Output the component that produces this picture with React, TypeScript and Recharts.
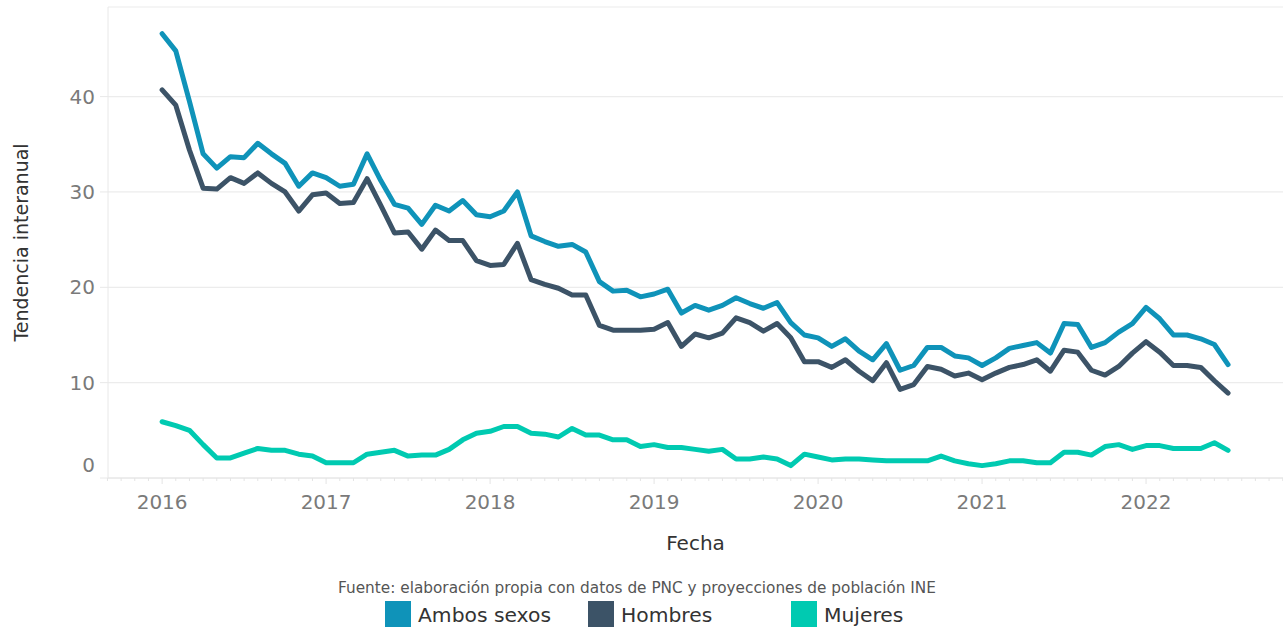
import React from 'react';
import { LineChart, Line, XAxis, YAxis, CartesianGrid } from 'recharts';

// Monthly dates, Jan 2016 - Jul 2022
const fechas = [
  '2016-01', '2016-02', '2016-03', '2016-04', '2016-05', '2016-06', '2016-07', '2016-08', '2016-09', '2016-10', '2016-11', '2016-12',
  '2017-01', '2017-02', '2017-03', '2017-04', '2017-05', '2017-06', '2017-07', '2017-08', '2017-09', '2017-10', '2017-11', '2017-12',
  '2018-01', '2018-02', '2018-03', '2018-04', '2018-05', '2018-06', '2018-07', '2018-08', '2018-09', '2018-10', '2018-11', '2018-12',
  '2019-01', '2019-02', '2019-03', '2019-04', '2019-05', '2019-06', '2019-07', '2019-08', '2019-09', '2019-10', '2019-11', '2019-12',
  '2020-01', '2020-02', '2020-03', '2020-04', '2020-05', '2020-06', '2020-07', '2020-08', '2020-09', '2020-10', '2020-11', '2020-12',
  '2021-01', '2021-02', '2021-03', '2021-04', '2021-05', '2021-06', '2021-07', '2021-08', '2021-09', '2021-10', '2021-11', '2021-12',
  '2022-01', '2022-02', '2022-03', '2022-04', '2022-05', '2022-06', '2022-07'
];

const ambosSexos = [
  46.6, 44.8, 39.5, 34.0, 32.5, 33.7, 33.6, 35.1, 34.0, 33.0, 30.6, 32.0,
  31.5, 30.6, 30.8, 34.0, 31.2, 28.7, 28.3, 26.6, 28.6, 28.0, 29.1, 27.6,
  27.4, 28.0, 30.0, 25.4, 24.8, 24.3, 24.5, 23.7, 20.6, 19.6, 19.7, 19.0,
  19.3, 19.8, 17.3, 18.1, 17.6, 18.1, 18.9, 18.3, 17.8, 18.4, 16.3, 15.0,
  14.7, 13.8, 14.6, 13.3, 12.4, 14.1, 11.3, 11.8, 13.7, 13.7, 12.8, 12.6,
  11.8, 12.6, 13.6, 13.9, 14.2, 13.1, 16.2, 16.1, 13.7, 14.2, 15.3, 16.2,
  17.9, 16.7, 15.0, 15.0, 14.6, 14.0, 11.9
];

const hombres = [
  40.7, 39.1, 34.4, 30.4, 30.3, 31.5, 30.9, 32.0, 30.9, 30.0, 28.0, 29.7,
  29.9, 28.8, 28.9, 31.4, 28.6, 25.7, 25.8, 24.0, 26.0, 24.9, 24.9, 22.8,
  22.3, 22.4, 24.6, 20.8, 20.3, 19.9, 19.2, 19.2, 16.0, 15.5, 15.5, 15.5,
  15.6, 16.3, 13.8, 15.1, 14.7, 15.2, 16.8, 16.3, 15.4, 16.2, 14.7, 12.2,
  12.2, 11.6, 12.4, 11.2, 10.2, 12.1, 9.3, 9.8, 11.7, 11.4, 10.7, 11.0,
  10.3, 11.0, 11.6, 11.9, 12.4, 11.2, 13.4, 13.2, 11.3, 10.8, 11.7, 13.1,
  14.3, 13.2, 11.8, 11.8, 11.6, 10.2, 8.9
];

const mujeres = [
  5.9, 5.5, 5.0, 3.5, 2.1, 2.1, 2.6, 3.1, 2.9, 2.9, 2.5, 2.3,
  1.6, 1.6, 1.6, 2.5, 2.7, 2.9, 2.3, 2.4, 2.4, 3.0, 4.0, 4.7,
  4.9, 5.4, 5.4, 4.7, 4.6, 4.3, 5.2, 4.5, 4.5, 4.0, 4.0, 3.3,
  3.5, 3.2, 3.2, 3.0, 2.8, 3.0, 2.0, 2.0, 2.2, 2.0, 1.3, 2.5,
  2.2, 1.9, 2.0, 2.0, 1.9, 1.8, 1.8, 1.8, 1.8, 2.3, 1.8, 1.5,
  1.3, 1.5, 1.8, 1.8, 1.6, 1.6, 2.7, 2.7, 2.4, 3.3, 3.5, 3.0,
  3.4, 3.4, 3.1, 3.1, 3.1, 3.7, 2.9
];

const years = [2016, 2017, 2018, 2019, 2020, 2021, 2022];
const yTicks = [0, 10, 20, 30, 40];

const series = [
  { key: 'ambos', name: 'Ambos sexos', color: '#0f93b9' },
  { key: 'hombres', name: 'Hombres', color: '#3c5367' },
  { key: 'mujeres', name: 'Mujeres', color: '#00cab1' }
];

// convert "YYYY-MM" to decimal year for the numeric axis
const toYear = (f: string) => {
  const [y, m] = f.split('-').map(Number);
  return y + (m - 1) / 12;
};

const data = fechas.map((f, i) => ({
  fecha: toYear(f),
  ambos: ambosSexos[i],
  hombres: hombres[i],
  mujeres: mujeres[i]
}));

// monthly minor ticks around the labelled years
const monthTicks: number[] = [];
for (let k = 8; k <= 12 * (years.length + 1) + 10; k++) {
  monthTicks.push(years[0] - 1 + k / 12);
}

const isYear = (v: number) => Math.abs(v - Math.round(v)) < 1e-6 && years.includes(Math.round(v));

const XTick = (props: any) => {
  const { x, y, payload } = props;
  const major = isYear(payload.value);
  return (
    <g>
      <line x1={x} x2={x} y1={y} y2={y + (major ? 6 : 3)} stroke="#e4e4e4" strokeWidth={1} />
      {major && (
        <text x={x} y={y + 31} textAnchor="middle" fill="#7a7a7a" fontSize={20}>
          {Math.round(payload.value)}
        </text>
      )}
    </g>
  );
};

const YTick = (props: any) => {
  const { x, y, payload } = props;
  return (
    <text x={x} y={y + (payload.value === 0 ? -13 : 0)} dy="0.355em" textAnchor="end" fill="#7a7a7a" fontSize={20}>
      {payload.value}
    </text>
  );
};

export default function App() {
  return (
    <div
      style={{
        position: 'absolute',
        left: 0,
        top: 0,
        width: 1283,
        height: 628,
        background: '#fff',
        fontFamily: '"DejaVu Sans", sans-serif',
        overflow: 'hidden'
      }}
    >
      <LineChart width={1283} height={560} data={data} margin={{ top: 7, right: 0, left: 0, bottom: 0 }}>
        <CartesianGrid horizontal vertical={false} stroke="#ececec" strokeWidth={1.2} />
        <XAxis
          dataKey="fecha"
          type="number"
          domain={[2015.67, 2022.835]}
          ticks={monthTicks}
          interval={0}
          height={82}
          tickSize={0}
          tickMargin={0}
          tickLine={false}
          axisLine={{ stroke: '#e4e4e4' }}
          tick={<XTick />}
          allowDataOverflow
          label={{ value: 'Fecha', position: 'insideBottom', offset: 10, fill: '#333', fontSize: 20 }}
        />
        <YAxis
          type="number"
          domain={[0, 49.4]}
          ticks={yTicks}
          width={108}
          tickSize={8}
          tickMargin={5}
          axisLine={{ stroke: '#e8e8e8' }}
          tickLine={{ stroke: '#e8e8e8' }}
          tick={<YTick />}
          allowDataOverflow
          label={{
            value: 'Tendencia interanual',
            angle: -90,
            position: 'insideLeft',
            offset: 21,
            fill: '#333',
            fontSize: 19,
            style: { textAnchor: 'middle' }
          }}
        />
        {series.map(s => (
          <Line
            key={s.key}
            type="linear"
            dataKey={s.key}
            name={s.name}
            stroke={s.color}
            strokeWidth={5}
            strokeLinejoin="round"
            strokeLinecap="round"
            dot={false}
            activeDot={false}
            isAnimationActive={false}
          />
        ))}
      </LineChart>
      <div
        style={{
          position: 'absolute',
          top: 579,
          left: 0,
          width: 1274,
          textAlign: 'center',
          fontSize: 15.3,
          lineHeight: '18px',
          color: '#555'
        }}
      >
        Fuente: elaboración propia con datos de PNC y proyecciones de población INE
      </div>
      <div style={{ position: 'absolute', top: 601, left: 385, display: 'flex' }}>
        {series.map(s => (
          <div key={s.key} style={{ width: 203, display: 'flex', alignItems: 'center', height: 26 }}>
            <span style={{ width: 26, height: 26, background: s.color, display: 'inline-block' }} />
            <span style={{ marginLeft: 7, fontSize: 20.3, color: '#333', lineHeight: '26px', paddingTop: 2 }}>{s.name}</span>
          </div>
        ))}
      </div>
    </div>
  );
}
